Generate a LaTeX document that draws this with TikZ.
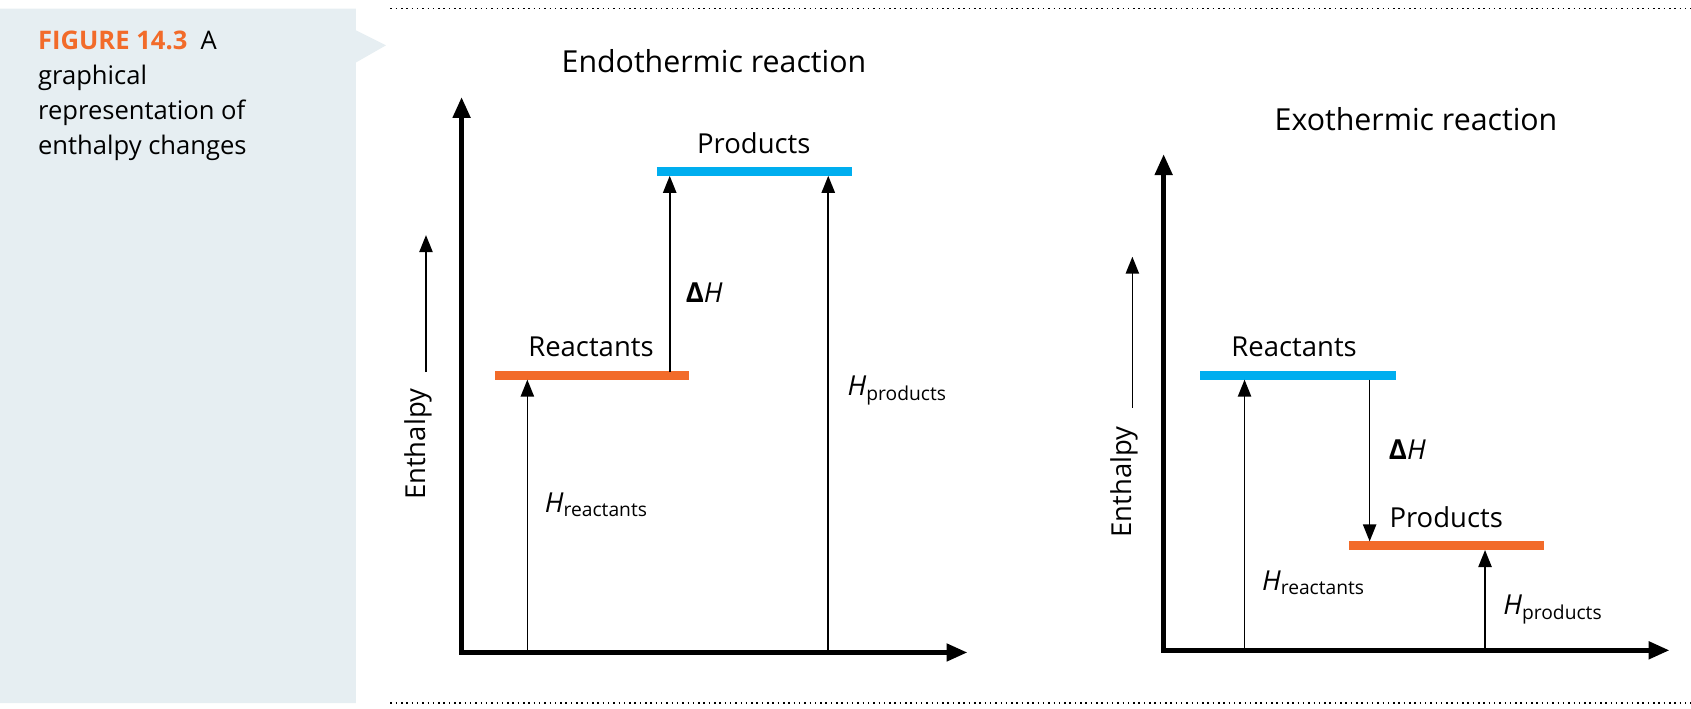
\documentclass[tikz,border=0pt]{standalone}
\usepackage{fontspec}
\setmainfont{Open Sans}
\usetikzlibrary{arrows.meta}
\definecolor{panel}{HTML}{E6EEF2}
\definecolor{orng}{HTML}{F26B2A}
\definecolor{blu}{HTML}{00AEEF}
\tikzset{
  axis/.style={line width=2.4pt,-{Triangle[length=11pt,width=9pt]}},
  thin/.style={line width=0.9pt,-{Triangle[length=9pt,width=7pt]}},
  bar/.style={line width=5pt},
  lbl/.style={font=\fontsize{14.5}{16}\selectfont,inner sep=0pt},
  ttl/.style={font=\fontsize{16}{18}\selectfont,inner sep=0pt},
}
\begin{document}
\begin{tikzpicture}[x=0.02cm,y=-0.02cm]
\useasboundingbox (0,0) rectangle (1568,657);
% panel
\fill[panel] (0,8) -- (330,8) -- (330,28) -- (358,42) -- (330,58) -- (330,652) -- (0,652) -- cycle;
\draw[dotted,line width=0.8pt] (362,8) -- (1568,8);
\draw[dotted,line width=0.8pt] (362,652) -- (1568,652);
\node[anchor=north west,align=left,inner sep=0pt,font=\fontsize{13.5}{18.5}\selectfont] (cap) at (35,28)
 {\textcolor{orng}{\textbf{FIGURE 14.3}}\ \ A\\graphical\\representation of\\enthalpy changes};
% ---------- Endothermic
\node[ttl] (t1) at (662,57) {Endothermic reaction};
\coordinate (o1) at (428,605);
\coordinate (y1) at (428,90);
\coordinate (x1) at (897,605);
\draw[axis] ([yshift=1.2pt]o1) -- (y1);
\draw[axis] ([xshift=-1.2pt]o1) -- (x1);
\coordinate (e1a) at (395,345); \coordinate (e1b) at (395,218);
\draw[thin] (e1a) -- (e1b);
\node[lbl,rotate=90] (en1) at (388,412) {Enthalpy};
\coordinate (r1a) at (459,348); \coordinate (r1b) at (639,348);
\draw[bar,orng] (r1a) -- (r1b);
\node[lbl] (rl1) at (548,322) {Reactants};
\coordinate (p1a) at (609,159); \coordinate (p1b) at (790,159);
\draw[bar,blu] (p1a) -- (p1b);
\node[lbl] (pl1) at (699,133) {Products};
\draw[thin] (489,605) -- (489,352);
\node[lbl] (hr1) at (553,468) {\textit{H}\textsubscript{reactants}};
\draw[thin] (621,345) -- (621,163);
\node[lbl] (dh1) at (653,271) {\textbf{Δ}\textit{H}};
\draw[thin] (768,605) -- (768,163);
\node[lbl] (hp1) at (832,362) {\textit{H}\textsubscript{products}};
% ---------- Exothermic
\node[ttl] (t2) at (1313,110) {Exothermic reaction};
\coordinate (o2) at (1079,603);
\draw[axis] ([yshift=1.2pt]o2) -- (1079,143);
\draw[axis] ([xshift=-1.2pt]o2) -- (1548,603);
\draw[thin] (1050,378) -- (1050,238);
\node[lbl,rotate=90] (en2) at (1043,447) {Enthalpy};
\draw[bar,blu] (1113,348) -- (1294,348);
\node[lbl] (rl2) at (1200,322) {Reactants};
\draw[bar,orng] (1251,506) -- (1432,506);
\node[lbl] (pl2) at (1341,480) {Products};
\draw[thin] (1154,603) -- (1154,352);
\node[lbl] (hr2) at (1218,540) {\textit{H}\textsubscript{reactants}};
\draw[thin] (1270,352) -- (1270,502);
\node[lbl] (dh2) at (1305,417) {\textbf{Δ}\textit{H}};
\draw[thin] (1377,603) -- (1377,510);
\node[lbl] (hp2) at (1440,565) {\textit{H}\textsubscript{products}};
\end{tikzpicture}
\end{document}
